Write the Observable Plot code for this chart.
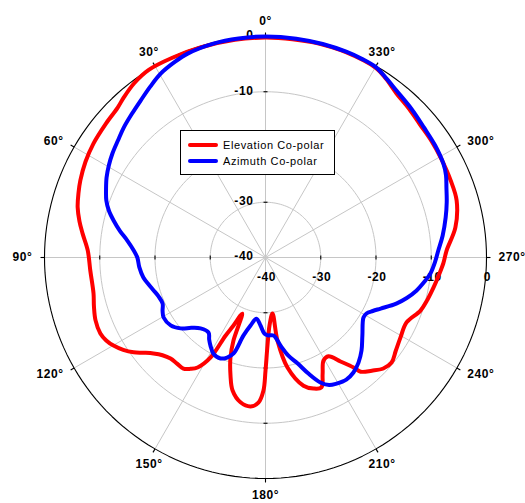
<!DOCTYPE html>
<html><head><meta charset="utf-8">
<script src="https://cdn.jsdelivr.net/npm/d3@7"></script>
<script src="https://cdn.jsdelivr.net/npm/@observablehq/plot@0.6"></script>
<style>
body{margin:0;background:#fff;}
#wrap{position:relative;width:525px;height:503px;overflow:hidden;}
#legend{position:absolute;left:180px;top:130px;width:153px;height:43px;border:1px solid #000;background:#fff;
  font-family:"Liberation Sans",Arial,sans-serif;font-size:11px;letter-spacing:0.6px;color:#000;}
#legend .sw{position:absolute;left:7px;width:30px;height:4px;border-radius:2px;}
#legend .lb{position:absolute;left:42px;line-height:13px;white-space:nowrap;}
</style></head><body><div id="wrap"></div>
<script>
// ---- data (angle in degrees, counter-clockwise from top; level in dB) ----
const elevAngle = [0,8,17,25,32,37,41.5,44.6,50,56.5,62,67.4,71,75,79,82.5,87.7,94.2,101.8,106,110.3,114.7,117.5,120.1,123,125.7,128,130.6,133.5,136.8,140,143.5,146,148.3,151.2,152.9,154.8,157.5,158.9,160.7,163.5,166.1,170.2,174.3,177.2,179.1,180,181.3,183.4,187.1,188.2,191.3,196.5,200.1,203.3,206.1,209.4,212.5,215.8,218.7,219.8,223.2,226.7,230.2,234.4,239.3,245.3,251.1,255.5,259.9,264,268.1,272.2,279,286.6,292.6,299.7,305,310.8,316,321.4,326,329.7,338.6,346,353];
const elevDb    = [-0.2,-0.2,-0.2,-0.1,0,-0.5,-1.3,-1.9,-2.3,-2.65,-3.1,-3.7,-4.2,-4.8,-5.7,-6.6,-7.8,-8.2,-8.2,-7.7,-7.2,-7.1,-7.5,-8.2,-9.3,-10.6,-12,-13.3,-14.3,-14.9,-15,-15,-15.7,-16.6,-19.3,-24.1,-26.4,-29,-23.9,-20.8,-17.7,-15.2,-13.4,-12.9,-13.7,-15.9,-19.5,-24.1,-27.7,-29.8,-24.8,-19.7,-15.8,-14.75,-14.4,-16.5,-18.6,-18.8,-16.8,-14.5,-13.1,-11.9,-10.7,-10.3,-11,-11.6,-11.9,-10.35,-9.7,-9.1,-8.5,-7.8,-7.2,-5.2,-3.9,-3.7,-3.5,-3.3,-3.1,-2.6,-2,-1,-0.3,-0.1,-0.1,-0.2];
const azimAngle = [0,7,13.7,20.9,25,29.7,34,38.5,43,47.5,51.5,55.8,59.5,63.3,66.8,70.3,73.3,76.3,79.6,83,86.5,90,94.5,99.3,103,106.4,110,114.1,117.5,120.5,125.6,129.9,133.5,137.5,142.8,145.5,148,151.6,156,159,161.6,164.2,167.6,171.6,175.8,179.2,181.5,185.9,189.7,193,196.8,200.3,203.7,206.5,209.4,213.5,217.4,221.5,225.9,231.2,238.5,241,243.5,246.1,250.6,254,257.7,261,264.5,268.5,272.3,277,282.5,287,291.1,294.5,297.8,303.5,309.4,315.5,321.9,326,329.7,334,338.6,345,352];
const azimDb    = [0,-0.05,-0.15,-0.5,-1,-1.7,-2.7,-3.7,-4.5,-5.2,-5.9,-6.5,-7.1,-7.8,-8.6,-9.4,-10.4,-11.7,-13.2,-14.8,-16,-16.8,-17.1,-17.6,-18.3,-18.9,-19.4,-19.6,-19,-18.6,-18.9,-20,-21.5,-22.6,-22.95,-22,-21.2,-20.2,-20,-20.6,-21.7,-25.3,-27.4,-28.8,-27.65,-26.2,-25.9,-25.8,-23.8,-21.8,-20,-17.6,-15.3,-14.2,-13.8,-13.5,-13.8,-14.6,-15.8,-17.5,-19.2,-19.1,-18.3,-17.2,-14.9,-13.4,-12,-11,-10,-9.3,-8.7,-7.7,-6.6,-5.7,-4.9,-4.1,-3.6,-3.2,-2.9,-2.3,-1.6,-0.9,-0.2,-0.05,0,0,0];
const seriesNames  = ["Elevation Co-polar", "Azimuth Co-polar"];
const seriesColors = ["#ff0000", "#0000ff"];
const ringLevels   = [-30, -20, -10];
const radialTicks  = [0, -10, -20, -30, -40];
const verticalTicks = [0, -10, -30, -40];   // the -20 label on the vertical axis is hidden behind the legend
const angleTicks   = [0, 30, 60, 90, 120, 150, 180, 210, 240, 270, 300, 330];
const axisDirs     = [0, 90, 180, 270];

// ---- polar helpers ----
const rMin = -40, rMax = 0, span = rMax - rMin;
const cx = 265, cy = 257, rad = 221;
const pxPerUnit = rad / span;
const rad2 = a => a * Math.PI / 180;
const X = (a, d) => -(d - rMin) * Math.sin(rad2(a));
const Y = (a, d) =>  (d - rMin) * Math.cos(rad2(a));

const elev = elevAngle.map((a, i) => ({a, d: elevDb[i]}));
const azim = azimAngle.map((a, i) => ({a, d: azimDb[i]}));
const circ = d3.range(0, 361, 2);
const rings = ringLevels.flatMap(r => circ.map(a => ({a, d: r, r})));
const outer = circ.map(a => ({a, d: rMax}));
const labOff = 12 / pxPerUnit; // label distance beyond outer circle
const tickLen = 4 / pxPerUnit;
const axisTickData = axisDirs.flatMap(dir => ringLevels.map(r => ({dir, r})));

const font = {fontFamily: "'Liberation Sans', Arial, sans-serif", fontSize: 12, fontWeight: "bold"};
const angText = (list, opts) => Plot.text(list, {
  x: a => X(a, rMax + labOff), y: a => Y(a, rMax + labOff), text: a => a + "°", ...font, ...opts});

const chart = Plot.plot({
  width: 525, height: 503, margin: 0,
  style: {letterSpacing: "0.6px", background: "#fff"},
  x: {domain: [-span, span], range: [cx - rad, cx + rad], axis: null},
  y: {domain: [-span, span], range: [cy + rad, cy - rad], axis: null},
  marks: [
    Plot.line(rings, {x: p => X(p.a, p.d), y: p => Y(p.a, p.d), z: "r", stroke: "#c6c6c6", strokeWidth: 1}),
    Plot.link(angleTicks, {x1: 0, y1: 0, x2: a => X(a, rMax), y2: a => Y(a, rMax), stroke: "#c6c6c6", strokeWidth: 1}),
    Plot.line(outer, {x: p => X(p.a, p.d), y: p => Y(p.a, p.d), stroke: "#000", strokeWidth: 1.1}),
    Plot.link(angleTicks, {x1: a => X(a, rMax), y1: a => Y(a, rMax), x2: a => X(a, rMax + tickLen), y2: a => Y(a, rMax + tickLen), stroke: "#000", strokeWidth: 1.1}),
    Plot.link(axisTickData, {
      x1: t => X(t.dir, t.r) + (t.dir % 180 === 0 ? -tickLen / 2 : 0),
      x2: t => X(t.dir, t.r) + (t.dir % 180 === 0 ?  tickLen / 2 : 0),
      y1: t => Y(t.dir, t.r) + (t.dir % 180 === 0 ? 0 :  tickLen / 2),
      y2: t => Y(t.dir, t.r) + (t.dir % 180 === 0 ? 0 : -tickLen / 2),
      stroke: "#000", strokeWidth: 1.1}),
    // radial labels
    Plot.text(verticalTicks, {x: 0, y: d => d - rMin, text: d => String(d), textAnchor: "end", dx: -12, dy: -1, ...font}),
    Plot.text(radialTicks, {x: d => d - rMin, y: 0, text: d => String(d), textAnchor: "middle", dx: 1, dy: 20, ...font}),
    // angle labels
    angText([330, 0, 30], {lineAnchor: "bottom"}),
    angText([150, 180, 210], {lineAnchor: "top"}),
    angText([60, 90, 120], {textAnchor: "end"}),
    angText([240, 270, 300], {textAnchor: "start"}),
    // series
    Plot.line(elev, {x: p => X(p.a, p.d), y: p => Y(p.a, p.d), stroke: seriesColors[0], strokeWidth: 4, curve: "catmull-rom-closed", strokeLinejoin: "round"}),
    Plot.line(azim, {x: p => X(p.a, p.d), y: p => Y(p.a, p.d), stroke: seriesColors[1], strokeWidth: 4, curve: "catmull-rom-closed", strokeLinejoin: "round"})
  ]
});
const wrap = document.getElementById("wrap");
wrap.appendChild(chart);

// legend (inside the plot area, as in the reference)
const leg = document.createElement("div");
leg.id = "legend";
seriesNames.forEach((name, i) => {
  const sw = document.createElement("div");
  sw.className = "sw"; sw.style.background = seriesColors[i]; sw.style.top = (11.7 + i * 16.6) + "px";
  const lb = document.createElement("div");
  lb.className = "lb"; lb.textContent = name; lb.style.top = (7.5 + i * 16.6) + "px";
  leg.appendChild(sw); leg.appendChild(lb);
});
wrap.appendChild(leg);
</script>
</body></html>
